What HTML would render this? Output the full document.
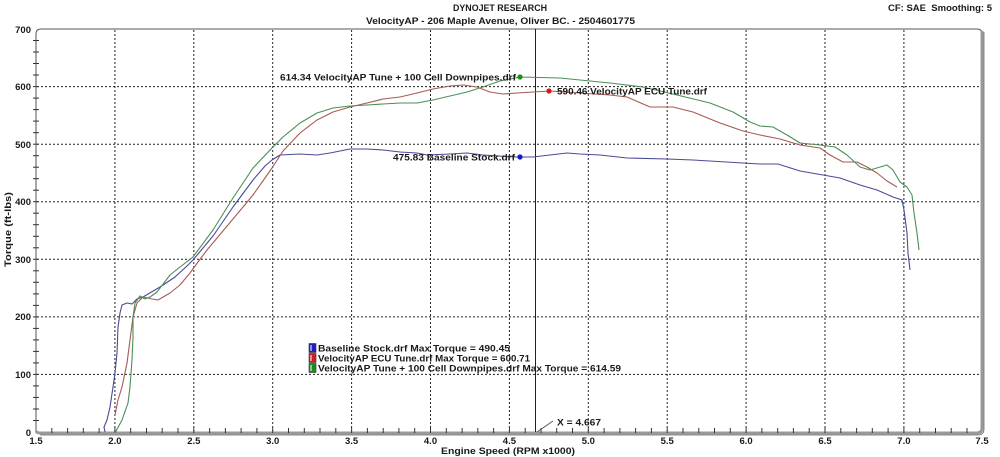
<!DOCTYPE html>
<html><head><meta charset="utf-8"><style>
html,body{margin:0;padding:0;background:#fff;}
svg{display:block;}
text{font-family:"Liberation Sans","DejaVu Sans",sans-serif;font-weight:bold;fill:#1a1a1a;}
</style></head><body>
<svg width="1000" height="457" viewBox="0 0 1000 457" xmlns="http://www.w3.org/2000/svg">
<rect width="1000" height="457" fill="#fff"/>
<!-- titles -->
<text x="453" y="11" font-size="9.5" textLength="94" lengthAdjust="spacingAndGlyphs">DYNOJET RESEARCH</text>
<text x="366" y="24" font-size="9.5" textLength="269" lengthAdjust="spacingAndGlyphs">VelocityAP - 206 Maple Avenue, Oliver BC. - 2504601775</text>
<text x="888" y="11" font-size="9.5" textLength="104" lengthAdjust="spacingAndGlyphs">CF: SAE&#160; Smoothing: 5</text>

<!-- grid -->
<g stroke="#222" stroke-width="1" stroke-dasharray="2,2" fill="none">
<line x1="114.9" y1="30" x2="114.9" y2="431"/>
<line x1="193.8" y1="30" x2="193.8" y2="431"/>
<line x1="272.7" y1="30" x2="272.7" y2="431"/>
<line x1="351.6" y1="30" x2="351.6" y2="431"/>
<line x1="430.5" y1="30" x2="430.5" y2="431"/>
<line x1="509.4" y1="30" x2="509.4" y2="431"/>
<line x1="588.3" y1="30" x2="588.3" y2="431"/>
<line x1="667.2" y1="30" x2="667.2" y2="431"/>
<line x1="746.1" y1="30" x2="746.1" y2="431"/>
<line x1="825" y1="30" x2="825" y2="431"/>
<line x1="903.9" y1="30" x2="903.9" y2="431"/>
<line x1="37" y1="86.6" x2="980" y2="86.6"/>
<line x1="37" y1="144.2" x2="980" y2="144.2"/>
<line x1="37" y1="201.7" x2="980" y2="201.7"/>
<line x1="37" y1="259.3" x2="980" y2="259.3"/>
<line x1="37" y1="316.9" x2="980" y2="316.9"/>
<line x1="37" y1="374.4" x2="980" y2="374.4"/>
</g>

<!-- frame -->
<path d="M36,432 L36,34 Q36,29 41,29 L977,29 Q982,29 982,34 L982,427 Q982,432 977,432 Z" fill="none" stroke="#555" stroke-width="1"/>
<path d="M982,31 L982,428 Q982,433 977,433 L40,433 Q37,433 36,431" fill="none" stroke="#999" stroke-width="3"/>
<path d="M984,32 L984,429 Q984,435 978,435 L40,435" fill="none" stroke="#666" stroke-width="0.8"/>

<!-- y ticks -->
<g stroke="#333" stroke-width="1">
<line x1="33" y1="40.5" x2="39" y2="40.5"/><line x1="33" y1="52" x2="39" y2="52"/><line x1="33" y1="63.5" x2="39" y2="63.5"/><line x1="33" y1="75" x2="39" y2="75"/>
<line x1="33" y1="86.6" x2="39" y2="86.6"/>
<line x1="33" y1="98.1" x2="39" y2="98.1"/><line x1="33" y1="109.6" x2="39" y2="109.6"/><line x1="33" y1="121.1" x2="39" y2="121.1"/><line x1="33" y1="132.7" x2="39" y2="132.7"/>
<line x1="33" y1="144.2" x2="39" y2="144.2"/>
<line x1="33" y1="155.7" x2="39" y2="155.7"/><line x1="33" y1="167.2" x2="39" y2="167.2"/><line x1="33" y1="178.7" x2="39" y2="178.7"/><line x1="33" y1="190.2" x2="39" y2="190.2"/>
<line x1="33" y1="201.7" x2="39" y2="201.7"/>
<line x1="33" y1="213.2" x2="39" y2="213.2"/><line x1="33" y1="224.7" x2="39" y2="224.7"/><line x1="33" y1="236.3" x2="39" y2="236.3"/><line x1="33" y1="247.8" x2="39" y2="247.8"/>
<line x1="33" y1="259.3" x2="39" y2="259.3"/>
<line x1="33" y1="270.8" x2="39" y2="270.8"/><line x1="33" y1="282.3" x2="39" y2="282.3"/><line x1="33" y1="293.9" x2="39" y2="293.9"/><line x1="33" y1="305.4" x2="39" y2="305.4"/>
<line x1="33" y1="316.9" x2="39" y2="316.9"/>
<line x1="33" y1="328.4" x2="39" y2="328.4"/><line x1="33" y1="339.9" x2="39" y2="339.9"/><line x1="33" y1="351.4" x2="39" y2="351.4"/><line x1="33" y1="362.9" x2="39" y2="362.9"/>
<line x1="33" y1="374.4" x2="39" y2="374.4"/>
<line x1="33" y1="385.9" x2="39" y2="385.9"/><line x1="33" y1="397.4" x2="39" y2="397.4"/><line x1="33" y1="409" x2="39" y2="409"/><line x1="33" y1="420.5" x2="39" y2="420.5"/>
</g>
<!-- x ticks -->
<g stroke="#333" stroke-width="1">
<line x1="51.8" y1="428" x2="51.8" y2="433"/><line x1="67.6" y1="428" x2="67.6" y2="433"/><line x1="83.3" y1="428" x2="83.3" y2="433"/><line x1="99.1" y1="428" x2="99.1" y2="433"/><line x1="114.9" y1="428" x2="114.9" y2="433"/>
<line x1="130.7" y1="428" x2="130.7" y2="433"/><line x1="146.5" y1="428" x2="146.5" y2="433"/><line x1="162.2" y1="428" x2="162.2" y2="433"/><line x1="178" y1="428" x2="178" y2="433"/><line x1="193.8" y1="428" x2="193.8" y2="433"/>
<line x1="209.6" y1="428" x2="209.6" y2="433"/><line x1="225.4" y1="428" x2="225.4" y2="433"/><line x1="241.1" y1="428" x2="241.1" y2="433"/><line x1="256.9" y1="428" x2="256.9" y2="433"/><line x1="272.7" y1="428" x2="272.7" y2="433"/>
<line x1="288.5" y1="428" x2="288.5" y2="433"/><line x1="304.3" y1="428" x2="304.3" y2="433"/><line x1="320" y1="428" x2="320" y2="433"/><line x1="335.8" y1="428" x2="335.8" y2="433"/><line x1="351.6" y1="428" x2="351.6" y2="433"/>
<line x1="367.4" y1="428" x2="367.4" y2="433"/><line x1="383.2" y1="428" x2="383.2" y2="433"/><line x1="398.9" y1="428" x2="398.9" y2="433"/><line x1="414.7" y1="428" x2="414.7" y2="433"/><line x1="430.5" y1="428" x2="430.5" y2="433"/>
<line x1="446.3" y1="428" x2="446.3" y2="433"/><line x1="462.1" y1="428" x2="462.1" y2="433"/><line x1="477.8" y1="428" x2="477.8" y2="433"/><line x1="493.6" y1="428" x2="493.6" y2="433"/><line x1="509.4" y1="428" x2="509.4" y2="433"/>
<line x1="525.2" y1="428" x2="525.2" y2="433"/><line x1="541" y1="428" x2="541" y2="433"/><line x1="556.7" y1="428" x2="556.7" y2="433"/><line x1="572.5" y1="428" x2="572.5" y2="433"/><line x1="588.3" y1="428" x2="588.3" y2="433"/>
<line x1="604.1" y1="428" x2="604.1" y2="433"/><line x1="619.9" y1="428" x2="619.9" y2="433"/><line x1="635.6" y1="428" x2="635.6" y2="433"/><line x1="651.4" y1="428" x2="651.4" y2="433"/><line x1="667.2" y1="428" x2="667.2" y2="433"/>
<line x1="683" y1="428" x2="683" y2="433"/><line x1="698.8" y1="428" x2="698.8" y2="433"/><line x1="714.5" y1="428" x2="714.5" y2="433"/><line x1="730.3" y1="428" x2="730.3" y2="433"/><line x1="746.1" y1="428" x2="746.1" y2="433"/>
<line x1="761.9" y1="428" x2="761.9" y2="433"/><line x1="777.7" y1="428" x2="777.7" y2="433"/><line x1="793.4" y1="428" x2="793.4" y2="433"/><line x1="809.2" y1="428" x2="809.2" y2="433"/><line x1="825" y1="428" x2="825" y2="433"/>
<line x1="840.8" y1="428" x2="840.8" y2="433"/><line x1="856.6" y1="428" x2="856.6" y2="433"/><line x1="872.3" y1="428" x2="872.3" y2="433"/><line x1="888.1" y1="428" x2="888.1" y2="433"/><line x1="903.9" y1="428" x2="903.9" y2="433"/>
<line x1="919.7" y1="428" x2="919.7" y2="433"/><line x1="935.5" y1="428" x2="935.5" y2="433"/><line x1="951.2" y1="428" x2="951.2" y2="433"/><line x1="967" y1="428" x2="967" y2="433"/>
</g>

<!-- y labels -->
<g font-size="9.5" text-anchor="end">
<text x="31" y="33">700</text>
<text x="31" y="90">600</text>
<text x="31" y="148">500</text>
<text x="31" y="205">400</text>
<text x="31" y="263">300</text>
<text x="31" y="320">200</text>
<text x="31" y="378">100</text>
<text x="31" y="436">0</text>
</g>
<!-- x labels -->
<g font-size="9.5" text-anchor="middle">
<text x="36" y="444">1.5</text>
<text x="114.9" y="444">2.0</text>
<text x="193.8" y="444">2.5</text>
<text x="272.7" y="444">3.0</text>
<text x="351.6" y="444">3.5</text>
<text x="430.5" y="444">4.0</text>
<text x="509.4" y="444">4.5</text>
<text x="588.3" y="444">5.0</text>
<text x="667.2" y="444">5.5</text>
<text x="746.1" y="444">6.0</text>
<text x="825" y="444">6.5</text>
<text x="903.9" y="444">7.0</text>
<text x="982" y="444">7.5</text>
</g>
<text x="441" y="454" font-size="9.5" textLength="134" lengthAdjust="spacingAndGlyphs">Engine Speed (RPM x1000)</text>
<text transform="translate(11,267) rotate(-90)" font-size="9.5" textLength="75" lengthAdjust="spacingAndGlyphs">Torque (ft-lbs)</text>

<!-- cursor -->
<line x1="535.5" y1="29" x2="535.5" y2="432" stroke="#222" stroke-width="1"/>
<line x1="537" y1="432" x2="553" y2="421" stroke="#555" stroke-width="1"/>
<text x="557" y="425.5" font-size="9.5" textLength="44" lengthAdjust="spacingAndGlyphs">X = 4.667</text>

<!-- curves -->
<polyline fill="none" stroke="#4a4a96" stroke-width="1.1" stroke-linejoin="round" points="105,432 104,427 107,420 110,407 113,387 115,373 117,353 118,327 120,313 122,305 127,303 132,304 137,299 143,297 160,287 175,277 187,266 193,260 213,236 233,207 253,180 265,166 272,160 280,155 300,154 317,155 330,153 350,149 367,149 383,150 400,152 417,153 427,155 450,154 467,153 483,155 513,157 533,157 550,155 567,153 580,154 600,155 627,158 667,159 693,160 743,163 760,164 778,164 800,171 823,175 840,178 860,185 877,190 893,197 902,200 904,210 907,233 908,253 910,270"/>
<polyline fill="none" stroke="#a85a52" stroke-width="1.1" stroke-linejoin="round" points="115,415 118,400 122,387 127,363 130,340 133,317 137,303 143,297 152,299 158,300 170,293 180,285 190,273 198,262 207,250 233,219 253,195 272,168 283,151 300,133 317,120 333,112 350,107 367,103 383,99 400,97 417,93 433,89 450,86 463,85 477,87 490,92 503,94 517,93 533,92 550,91 580,93 610,95 627,97 650,107 673,107 693,112 720,123 743,131 760,135 780,139 800,145 820,148 830,155 843,162 857,162 867,167 877,173 887,181 897,187"/>
<polyline fill="none" stroke="#4a8f55" stroke-width="1.1" stroke-linejoin="round" points="115,433 122,420 128,403 130,387 132,360 133,337 133,317 135,303 140,296 145,299 150,297 157,292 170,275 180,267 193,257 213,230 233,198 253,168 272,148 283,137 300,123 317,113 333,108 350,106 367,105 383,104 400,103 417,103 433,100 450,96 467,92 483,87 500,81 520,77 560,78 580,80 610,83 643,87 677,95 710,103 733,112 750,122 760,126 773,127 787,135 800,143 820,145 835,147 847,155 860,167 870,170 887,165 893,170 900,182 907,187 912,195 914,213 917,233 919,250"/>

<!-- markers & labels -->
<circle cx="520" cy="77" r="2.6" fill="#1a8f1a"/>
<circle cx="549" cy="91" r="2.6" fill="#e01515"/>
<circle cx="520" cy="157" r="2.6" fill="#1515d0"/>
<text x="280" y="80.5" font-size="9.5" textLength="236" lengthAdjust="spacingAndGlyphs">614.34 VelocityAP Tune + 100 Cell Downpipes.drf</text>
<text x="557" y="94.5" font-size="9.5" textLength="150" lengthAdjust="spacingAndGlyphs">590.46 VelocityAP ECU Tune.drf</text>
<text x="393" y="160.5" font-size="9.5" textLength="122" lengthAdjust="spacingAndGlyphs">475.83 Baseline Stock.drf</text>

<!-- legend -->
<rect x="309" y="343.5" width="7" height="9" fill="#2020c0" stroke="#333" stroke-width="0.6"/>
<line x1="311" y1="345" x2="311" y2="351" stroke="#fff" stroke-width="1"/>
<rect x="309" y="353.5" width="7" height="9" fill="#d02020" stroke="#333" stroke-width="0.6"/>
<line x1="311" y1="355" x2="311" y2="361" stroke="#fff" stroke-width="1"/>
<rect x="309" y="363.5" width="7" height="9" fill="#208a20" stroke="#333" stroke-width="0.6"/>
<line x1="311" y1="365" x2="311" y2="371" stroke="#fff" stroke-width="1"/>
<text x="318" y="351.5" font-size="9.5" textLength="192" lengthAdjust="spacingAndGlyphs">Baseline Stock.drf Max Torque = 490.45</text>
<text x="318" y="361.5" font-size="9.5" textLength="212" lengthAdjust="spacingAndGlyphs">VelocityAP ECU Tune.drf Max Torque = 600.71</text>
<text x="318" y="371.5" font-size="9.5" textLength="303" lengthAdjust="spacingAndGlyphs">VelocityAP Tune + 100 Cell Downpipes.drf Max Torque = 614.59</text>
</svg>
</body></html>
